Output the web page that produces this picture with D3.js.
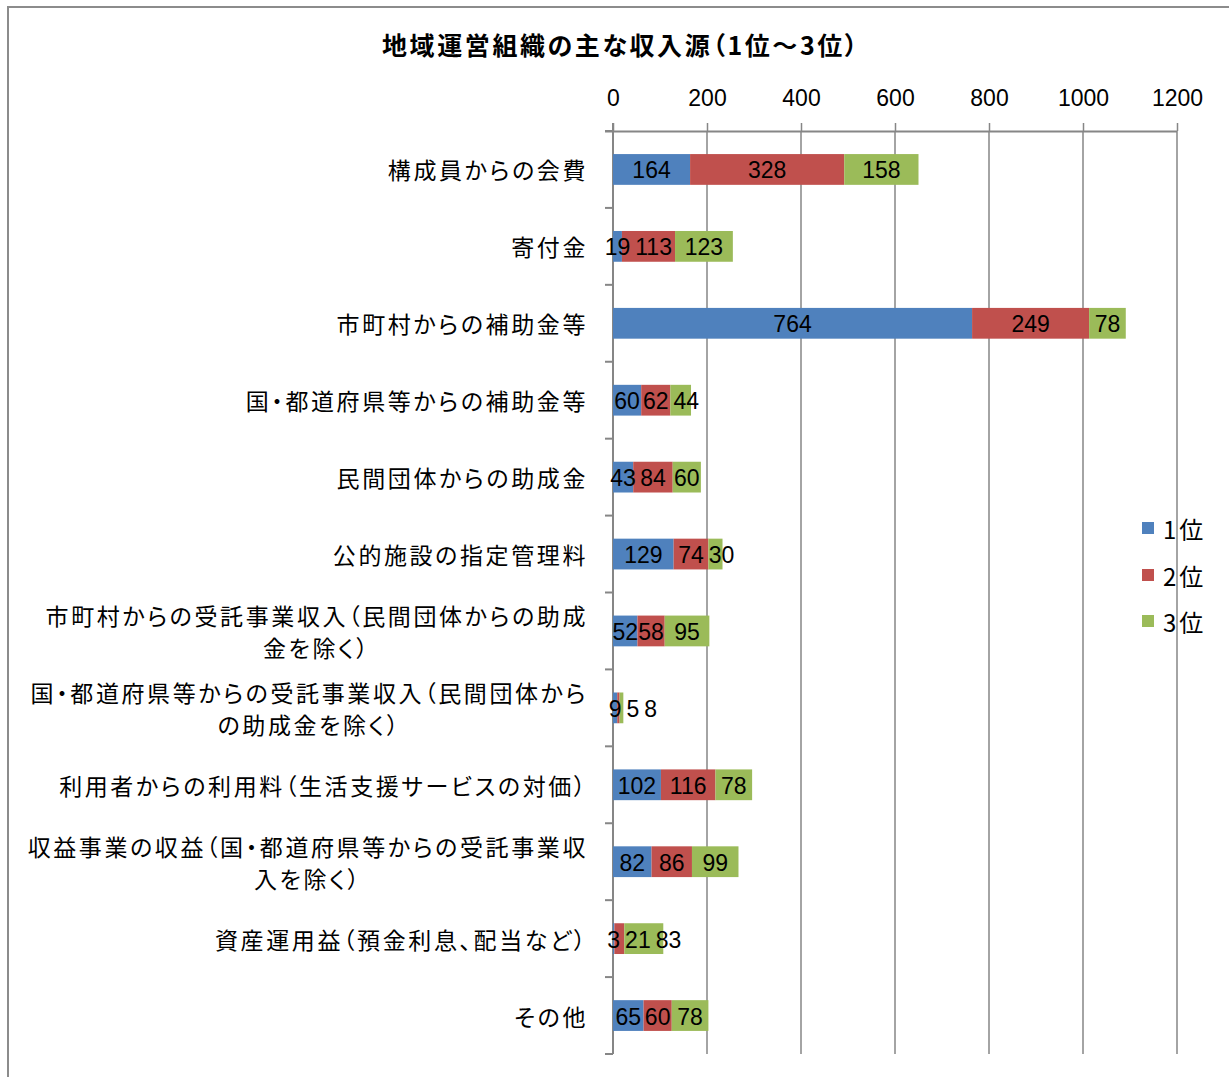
<!DOCTYPE html>
<html>
<head>
<meta charset="utf-8">
<script src="https://cdn.jsdelivr.net/npm/d3@7"></script>
<style>
  html, body { margin: 0; padding: 0; background: #fff; }
  svg { display: block; }
  .jp { font-feature-settings: "palt" 1; }
</style>
</head>
<body>
<svg id="chart" width="1229" height="1077"></svg>
<script>
// Categories (top to bottom), each as one or two display lines
const categories = [
  ["構成員からの会費"],
  ["寄付金"],
  ["市町村からの補助金等"],
  ["国・都道府県等からの補助金等"],
  ["民間団体からの助成金"],
  ["公的施設の指定管理料"],
  ["市町村からの受託事業収入（民間団体からの助成", "金を除く）"],
  ["国・都道府県等からの受託事業収入（民間団体から", "の助成金を除く）"],
  ["利用者からの利用料（生活支援サービスの対価）"],
  ["収益事業の収益（国・都道府県等からの受託事業収", "入を除く）"],
  ["資産運用益（預金利息、配当など）"],
  ["その他"]
];

const seriesNames = ["1位", "2位", "3位"];
const rank1 = [164, 19, 764, 60, 43, 129, 52, 9, 102, 82, 3, 65];
const rank2 = [328, 113, 249, 62, 84, 74, 58, 5, 116, 86, 21, 60];
const rank3 = [158, 123, 78, 44, 60, 30, 95, 8, 78, 99, 83, 78];
const xTicks = [0, 200, 400, 600, 800, 1000, 1200];

const colors = ["#4F81BD", "#C0504D", "#9BBB59"];
const titleText = "地域運営組織の主な収入源（1位～3位）";

const jpFont = "'Noto Sans CJK JP', 'Noto Sans', sans-serif";
const numFont = "'Liberation Sans', Arial, sans-serif";

const svg = d3.select("#chart");

// Outer chart frame (runs off the right and bottom edges)
svg.append("rect")
  .attr("x", 8).attr("y", 7)
  .attr("width", 1260).attr("height", 1100)
  .attr("fill", "#fff")
  .attr("stroke", "#8c8c8c").attr("stroke-width", 2);

const plot = { left: 613, right: 1177, top: 131, bottom: 1054 };

const x = d3.scaleLinear().domain([0, 1200]).range([plot.left, plot.right]);
const y = d3.scaleBand()
  .domain(d3.range(categories.length))
  .range([plot.top, plot.bottom])
  .paddingInner(0.6).paddingOuter(0.3);
const yCat = d3.scaleBand()
  .domain(d3.range(categories.length))
  .range([plot.top, plot.bottom]);

// Table for stacking
const table = categories.map((c, i) => ({ i, r1: rank1[i], r2: rank2[i], r3: rank3[i] }));
const stack = d3.stack().keys(["r1", "r2", "r3"])(table);

// Title
svg.append("text")
  .attr("class", "jp")
  .attr("x", 621).attr("y", 55)
  .attr("text-anchor", "middle")
  .attr("font-family", jpFont)
  .attr("font-weight", "bold")
  .attr("font-size", 25)
  .attr("letter-spacing", 2.6)
  .attr("fill", "#000")
  .text(titleText);

// Vertical gridlines
const gridColor = "#868686";
svg.append("g")
  .selectAll("line")
  .data(xTicks.slice(1))
  .join("line")
  .attr("x1", d => x(d)).attr("x2", d => x(d))
  .attr("y1", plot.top).attr("y2", plot.bottom)
  .attr("stroke", gridColor).attr("stroke-width", 1.5);

// Top value axis
const xAxis = d3.axisTop(x).tickValues(xTicks).tickSize(8).tickPadding(17).tickFormat(d3.format("d"));
const gx = svg.append("g")
  .attr("transform", `translate(0,${plot.top})`)
  .call(xAxis);
gx.select(".domain").attr("stroke", gridColor).attr("stroke-width", 2).attr("d", `M${plot.left - 8},0.5H${plot.right}`);
gx.selectAll(".tick line").attr("stroke", gridColor).attr("stroke-width", 1.5);
gx.selectAll(".tick text")
  .attr("font-family", numFont).attr("font-size", 23).attr("fill", "#000");

// Left category axis line and boundary ticks
const gy = svg.append("g");
gy.append("line")
  .attr("x1", plot.left).attr("x2", plot.left)
  .attr("y1", plot.top - 8).attr("y2", plot.bottom)
  .attr("stroke", gridColor).attr("stroke-width", 2);
gy.selectAll("line.bt")
  .data(d3.range(categories.length + 1))
  .join("line")
  .attr("class", "bt")
  .attr("x1", plot.left - 8).attr("x2", plot.left)
  .attr("y1", i => plot.top + i * yCat.bandwidth())
  .attr("y2", i => plot.top + i * yCat.bandwidth())
  .attr("stroke", gridColor).attr("stroke-width", 2);

// Category labels: block right-aligned, lines centred within the block
const labelRight = 588;
const lineGap = 32;
categories.forEach((lines, i) => {
  const cy = yCat(i) + yCat.bandwidth() / 2;
  const g = svg.append("g");
  const texts = lines.map((s, k) => g.append("text")
    .attr("class", "jp")
    .attr("font-family", jpFont)
    .attr("font-size", 23)
    .attr("letter-spacing", 2.6)
    .attr("fill", "#000")
    .attr("dominant-baseline", "central")
    .attr("y", cy + (k - (lines.length - 1) / 2) * lineGap)
    .text(s));
  const widths = texts.map(t => t.node().getComputedTextLength());
  const blockW = d3.max(widths);
  const center = labelRight - blockW / 2;
  texts.forEach(t => t.attr("x", center).attr("text-anchor", "middle"));
});

// Stacked bars
const layers = svg.append("g")
  .selectAll("g")
  .data(stack)
  .join("g")
  .attr("fill", (d, k) => colors[k]);
layers.selectAll("rect")
  .data(d => d)
  .join("rect")
  .attr("x", d => x(d[0]))
  .attr("y", d => y(d.data.i))
  .attr("width", d => x(d[1]) - x(d[0]))
  .attr("height", y.bandwidth());

// Data labels, centred on their segment and nudged right when they collide
const labelLayer = svg.append("g");
table.forEach((row, i) => {
  const cy = y(i) + y.bandwidth() / 2;
  let prevRight = -Infinity;
  stack.forEach((layer) => {
    const seg = layer[i];
    const v = seg[1] - seg[0];
    const t = labelLayer.append("text")
      .attr("font-family", numFont)
      .attr("font-size", 23)
      .attr("fill", "#000")
      .attr("text-anchor", "middle")
      .attr("dominant-baseline", "central")
      .attr("y", cy + 1)
      .text(v);
    const w = t.node().getComputedTextLength();
    let c = (x(seg[0]) + x(seg[1])) / 2;
    if (c - w / 2 < prevRight) c = prevRight + 5 + w / 2;
    t.attr("x", c);
    prevRight = c + w / 2;
  });
});

// Legend
const legend = svg.append("g");
const legendY = [528, 575, 621];
seriesNames.forEach((name, k) => {
  legend.append("rect")
    .attr("x", 1142).attr("y", legendY[k] - 6)
    .attr("width", 12).attr("height", 12)
    .attr("fill", colors[k]);
  legend.append("text")
    .attr("x", 1163).attr("y", legendY[k])
    .attr("dominant-baseline", "central")
    .attr("font-family", jpFont)
    .attr("font-size", 24)
    .attr("letter-spacing", 3)
    .attr("fill", "#000")
    .text(name);
});
</script>
</body>
</html>
